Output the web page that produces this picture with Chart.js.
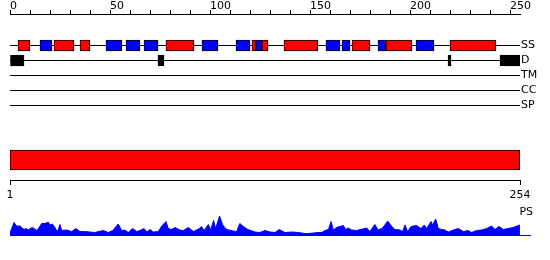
<!DOCTYPE html>
<html lang="en">
<head>
<meta charset="UTF-8">
<title>Protein feature plot</title>
<script src="https://cdn.jsdelivr.net/npm/chart.js"></script>
<style>
  body { margin: 0; background: #fff; }
  #wrap { position: relative; width: 550px; height: 260px; }
  #wrap canvas { position: absolute; left: 0; }
</style>
</head>
<body>
<div id="wrap">
  <canvas id="tracks" width="550" height="118" style="top:0"></canvas>
  <canvas id="domain" width="550" height="60" style="top:140px"></canvas>
  <canvas id="profile" width="550" height="60" style="top:200px"></canvas>
</div>
<script>
// sequence and track names
const seqLength = 254;
const trackNames = ['SS', 'D', 'TM', 'CC', 'SP'];
const topTicks = [0, 10, 20, 30, 40, 50, 60, 70, 80, 90, 100, 110, 120, 130, 140, 150, 160, 170, 180, 190, 200, 210, 220, 230, 240, 250];
const bottomTicks = [1, 254];

// secondary structure (start, end)
const helices = [[4, 10], [22, 32], [35, 40], [78, 92], [121, 123], [126, 129], [137, 154], [171, 180], [188, 201], [220, 243]];
const strands = [[15, 21], [48, 56], [58, 65], [67, 74], [96, 104], [113, 120], [123, 126], [158, 165], [166, 170], [184, 188], [203, 212]];
// disordered regions
const disorder = [[0, 7], [74, 77], [219, 220.5], [245, 255]];
// domain bar
const domains = [[1, 254]];

// PS profile (position, value)
const psPos = [1, 3, 4.3, 6, 6.8, 8, 9, 10, 12, 14.5, 16.7, 18.4, 20, 20.8, 22, 23.3, 24.5, 25.8, 26.6, 29,
  31.6, 33.7, 35.7, 38, 43, 47.3, 49.8, 52, 54.7, 56.4, 58, 59.7, 61.7, 63.9, 65.5, 67.5, 69, 70.5, 72, 74.6,
  76.3, 78.4, 79.5, 81.2, 82.9, 85.3, 87, 89.5, 92, 95, 96, 97.3, 99.4, 100.6, 102, 103, 105, 106.5, 108.5, 111.8,
  113.5, 115, 116.8, 119, 122.5, 125, 127.5, 130, 132.5, 134.5, 137.4, 140.8, 144, 147.4, 149, 154, 155.7, 157.3, 159, 160.3,
  161.4, 163, 164.7, 166.4, 167.5, 168.8, 170.5, 173, 178, 179.6, 182, 183.7, 185.4, 187, 188.4, 190.4, 192, 194.5, 195.8, 197,
  198.3, 200, 202.8, 204.9, 206.6, 207.7, 209.9, 210.7, 212.2, 213.5, 215.2, 216.8, 218.5, 221.8, 223.4, 225.9, 228.4, 230, 232.5, 235,
  237.5, 240, 241.6, 243.6, 245.8, 248.2, 250.7, 253.2, 254];
const psVal = [2, 12.5, 9, 9, 7.5, 5.5, 6.5, 5, 7.5, 4.5, 11.5, 11.5, 13, 10, 11, 7.5, 3, 10.5, 4.5, 5,
  3.5, 6.5, 3.5, 3.5, 2.5, 4.5, 2.5, 4.5, 11, 4.5, 5, 2.5, 6.5, 3.5, 4.5, 6.5, 3, 5.5, 3, 3.5,
  9, 13.5, 6.5, 5.5, 7.5, 5, 4.5, 7.5, 3.5, 6.5, 8.5, 4.5, 10.5, 5, 14.5, 6.5, 19, 10, 5.5, 4,
  3.5, 11.5, 8.5, 5.5, 3, 2.5, 4.5, 3, 2.5, 5.5, 2.5, 3, 2.5, 1.5, 1.5, 2.5, 2.5, 4.5, 5.5, 13.5,
  5, 7.5, 8.5, 9.5, 5.5, 7, 5, 4.5, 7, 3.5, 10.5, 5, 6.5, 10, 14, 8.5, 5.5, 5, 3.5, 10,
  3.5, 8.5, 9.5, 6.5, 10, 6.5, 13.5, 10, 16, 6.5, 5.5, 5, 3, 5.5, 6.5, 3.5, 4.5, 2.5, 4.5, 5,
  6.5, 9, 5.5, 8.5, 5.5, 6.5, 7.5, 9.5, 10];

Chart.defaults.font.family = 'DejaVu Sans';
Chart.defaults.font.size = 11;
Chart.defaults.color = '#000';
Chart.defaults.animation = false;
Chart.defaults.responsive = false;
Chart.defaults.plugins.legend.display = false;
Chart.defaults.plugins.tooltip.enabled = false;

// force an axis to a fixed size and drop the label overflow padding
function fixSize(prop, size) {
  return s => {
    s[prop] = size;
    s.paddingLeft = s.paddingRight = s.paddingTop = s.paddingBottom = 0;
  };
}

const tickFont = { size: 11, lineHeight: 1 };

// --- tracks: SS / D / TM / CC / SP ---
const box = { type: 'bar', indexAxis: 'y', grouped: false, barThickness: 11, borderColor: '#000', borderWidth: 1, borderSkipped: false, order: 0 };
new Chart(document.getElementById('tracks'), {
  type: 'bar',
  data: {
    datasets: [
      { ...box, backgroundColor: '#ff0000', data: helices.map(r => ({ x: r, y: 0 })) },
      { ...box, backgroundColor: '#0000ff', data: strands.map(r => ({ x: r, y: 0 })) },
      { ...box, backgroundColor: '#000000', data: disorder.map(r => ({ x: r, y: 1 })) },
      ...trackNames.map((n, i) => ({
        type: 'line', order: 1, label: n,
        data: [{ x: 0, y: i }, { x: seqLength + 1, y: i }],
        borderColor: '#000', borderWidth: 1, pointRadius: 0
      }))
    ]
  },
  options: {
    indexAxis: 'y',
    layout: { padding: { left: 10, right: 0, top: 0, bottom: 0 } },
    scales: {
      x: {
        type: 'linear', position: 'top', min: 0, max: seqLength + 1,
        afterBuildTicks: s => { s.ticks = topTicks.map(v => ({ value: v })); },
        afterFit: fixSize('height', 14),
        grid: { drawOnChartArea: false, color: '#000', tickLength: 4 },
        border: { color: '#000' },
        ticks: { align: 'start', padding: -2, autoSkip: false, maxRotation: 0, font: tickFont,
                 callback: v => (v % 50 === 0 ? String(v) : '') }
      },
      y: {
        // rows 15px apart, first row at y = 45.5
        type: 'linear', position: 'right', reverse: true, offset: false,
        min: -(45.5 - 14) / 15, max: (118 - 45.5) / 15,
        afterBuildTicks: s => { s.ticks = trackNames.map((n, i) => ({ value: i })); },
        afterFit: fixSize('width', 30),
        grid: { display: false, drawTicks: false },
        border: { display: false },
        ticks: { padding: 1, autoSkip: false, font: tickFont, callback: (v, i) => trackNames[i] }
      }
    }
  }
});

// --- domain bar with 1..254 axis ---
new Chart(document.getElementById('domain'), {
  type: 'bar',
  data: {
    labels: [''],
    datasets: [{ data: domains, backgroundColor: '#ff0000', borderColor: '#000', borderWidth: 1, borderSkipped: false, barThickness: 20 }]
  },
  options: {
    indexAxis: 'y',
    layout: { padding: { left: 10, right: 30, top: 0, bottom: 0 } },
    scales: {
      x: {
        type: 'linear', min: 1, max: seqLength,
        afterBuildTicks: s => { s.ticks = bottomTicks.map(v => ({ value: v })); },
        afterFit: fixSize('height', 20),
        grid: { drawOnChartArea: false, color: '#000', tickLength: 5 },
        border: { color: '#000' },
        ticks: { padding: 5, autoSkip: false, maxRotation: 0, font: tickFont }
      },
      y: { display: false }
    }
  }
});

// --- PS profile ---
new Chart(document.getElementById('profile'), {
  type: 'line',
  data: {
    datasets: [{
      data: psPos.map((x, i) => ({ x: x, y: psVal[i] })),
      borderColor: '#0000ff', backgroundColor: '#0000ff', borderWidth: 1,
      pointRadius: 0, fill: 'origin', tension: 0
    }]
  },
  options: {
    layout: { padding: { left: 10, right: 20, top: 0, bottom: 0 } },
    scales: {
      x: {
        type: 'linear', min: 1, max: 259,
        afterFit: fixSize('height', 25),
        grid: { display: false, drawTicks: false },
        border: { color: '#0000ff' },
        ticks: { display: false }
      },
      y: {
        position: 'right', min: 0, max: 35,
        afterBuildTicks: s => { s.ticks = [{ value: 23 }]; },
        afterFit: fixSize('width', 0),
        grid: { display: false, drawTicks: false },
        border: { display: false },
        ticks: { mirror: true, padding: 3, autoSkip: false, font: tickFont, callback: () => 'PS' }
      }
    }
  }
});
</script>
</body>
</html>
